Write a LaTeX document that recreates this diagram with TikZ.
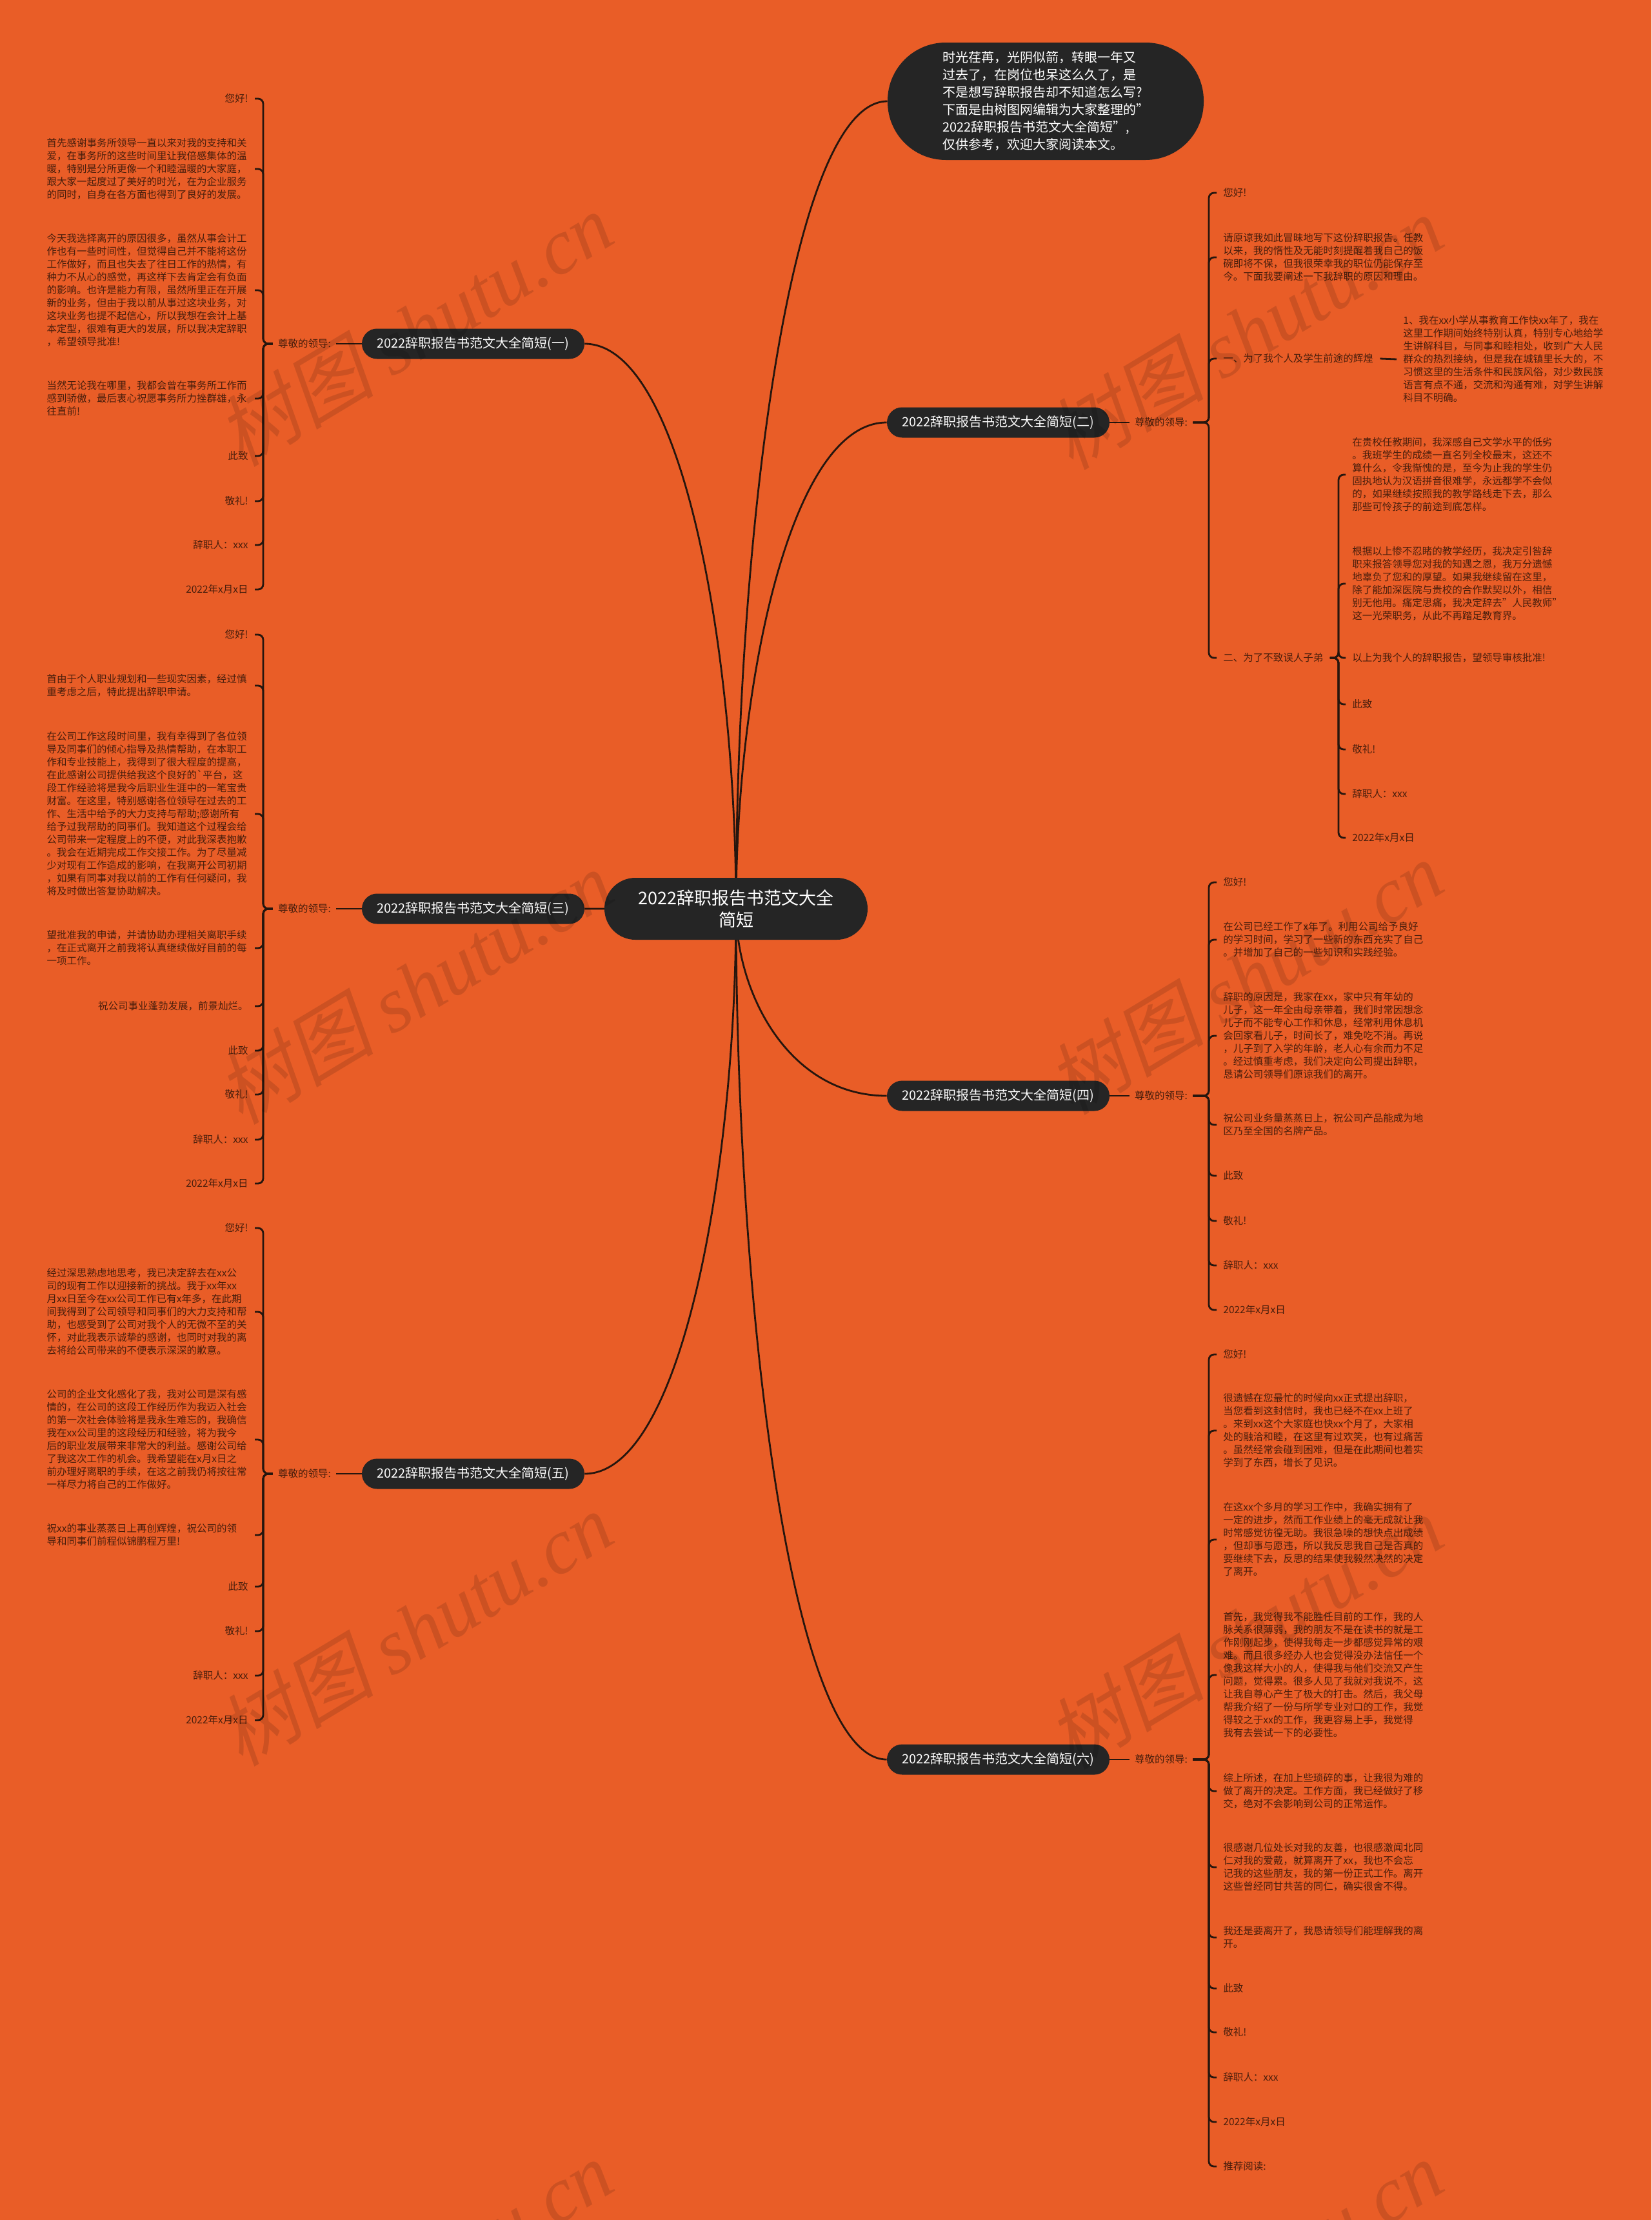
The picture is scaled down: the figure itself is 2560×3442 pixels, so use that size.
\documentclass[tikz,border=0pt]{standalone}
\usepackage{fontspec}
\setmainfont{Noto Sans CJK SC}
\newfontfamily\wmlatin{Liberation Serif}
\newfontfamily\wmcjk[FakeSlant=0.2]{Noto Sans CJK SC}
\usetikzlibrary{calc}
\definecolor{bgc}{RGB}{233,93,39}
\definecolor{nodec}{RGB}{37,37,37}
\definecolor{linec}{RGB}{38,22,14}
\definecolor{leafc}{RGB}{72,30,12}
\pgfdeclarelayer{bg}
\pgfsetlayers{bg,main}
\begin{document}
\begin{tikzpicture}[x=0.5pt,y=-0.5pt,
  leaf/.style={text=leafc, font=\fontsize{7.75pt}{10pt}\selectfont, align=left, inner xsep=5pt, inner ysep=0pt},
  lleaf/.style={leaf, anchor=east},
  lmulti/.style={leaf, anchor=east, text width=156pt},
  rleaf/.style={leaf, anchor=west},
  lab/.style={text=leafc, font=\fontsize{7.75pt}{10pt}\selectfont, inner xsep=4pt, inner ysep=0pt},
  branch/.style={fill=nodec, text=white, font=\fontsize{10pt}{12pt}\selectfont, rounded corners=11.75pt, minimum height=23.5pt, minimum width=172.5pt, inner xsep=0pt},
  conn/.style={draw=linec, line width=1.4pt, rounded corners=4pt},
  mainc/.style={draw=linec, line width=1.4pt},
  wm/.style={rotate=31, text=black, text opacity=0.12, font=\fontsize{61pt}{61pt}\selectfont, inner sep=0pt}
]
\useasboundingbox (0,0) rectangle (2560,3442);
\begin{pgfonlayer}{bg}
\fill[bgc] (0,0) rectangle (2560,3442);
\end{pgfonlayer}

% central node and top bubble
\node[fill=nodec, text=white, font=\fontsize{13.5pt}{17pt}\selectfont, align=center, rounded corners=24pt, minimum width=204pt, minimum height=48pt, inner sep=0pt] (C) at (1141,1409) {2022辞职报告书范文大全\\简短};
\node[fill=nodec, text=white, font=\fontsize{10pt}{13.5pt}\selectfont, align=left, rounded corners=45pt, minimum width=245pt, minimum height=91pt, inner sep=0pt] (bub) at (1621,157) {时光荏苒，光阴似箭，转眼一年又\\过去了，在岗位也呆这么久了，是\\不是想写辞职报告却不知道怎么写?\\下面是由树图网编辑为大家整理的"\\2022辞职报告书范文大全简短",\\仅供参考，欢迎大家阅读本文。};

% branch nodes
\node[branch] (b1) at (733.5,533) {2022辞职报告书范文大全简短(一)};
\node[branch] (b2) at (1547.5,655) {2022辞职报告书范文大全简短(二)};
\node[branch] (b3) at (733.5,1409) {2022辞职报告书范文大全简短(三)};
\node[branch] (b4) at (1547.5,1699) {2022辞职报告书范文大全简短(四)};
\node[branch] (b5) at (733.5,2285) {2022辞职报告书范文大全简短(五)};
\node[branch] (b6) at (1547.5,2728) {2022辞职报告书范文大全简短(六)};

% labels
\node[lab] (l1) at (472,533) {尊敬的领导:};
\node[lab] (l2) at (1800,655) {尊敬的领导:};
\node[lab] (l3) at (472,1409) {尊敬的领导:};
\node[lab] (l4) at (1800,1699) {尊敬的领导:};
\node[lab] (l5) at (472,2285) {尊敬的领导:};
\node[lab] (l6) at (1800,2728) {尊敬的领导:};
\coordinate (k1) at (408,533);
\coordinate (k2) at (1874,655);
\coordinate (k3) at (408,1409);
\coordinate (k4) at (1874,1699);
\coordinate (k5) at (408,2285);
\coordinate (k6) at (1874,2728);

% ---- branch 1 leaves
\node[lleaf] (a1) at (395,153) {您好!};
\node[lmulti] (a2) at (395,262) {首先感谢事务所领导一直以来对我的支持和关\\爱，在事务所的这些时间里让我倍感集体的温\\暖，特别是分所更像一个和睦温暖的大家庭，\\跟大家一起度过了美好的时光，在为企业服务\\的同时，自身在各方面也得到了良好的发展。};
\node[lmulti] (a3) at (395,450) {今天我选择离开的原因很多，虽然从事会计工\\作也有一些时间性，但觉得自己并不能将这份\\工作做好，而且也失去了往日工作的热情，有\\种力不从心的感觉，再这样下去肯定会有负面\\的影响。也许是能力有限，虽然所里正在开展\\新的业务，但由于我以前从事过这块业务，对\\这块业务也提不起信心，所以我想在会计上基\\本定型，很难有更大的发展，所以我决定辞职\\，希望领导批准!};
\node[lmulti] (a4) at (395,618) {当然无论我在哪里，我都会曾在事务所工作而\\感到骄傲，最后衷心祝愿事务所力挫群雄，永\\往直前!};
\node[lleaf] (a5) at (395,707) {此致};
\node[lleaf] (a6) at (395,777) {敬礼!};
\node[lleaf] (a7) at (395,845) {辞职人：xxx};
\node[lleaf] (a8) at (395,914) {2022年x月x日};

% ---- branch 3 leaves
\node[lleaf] (c1) at (395,984) {您好!};
\node[lmulti] (c2) at (395,1063) {首由于个人职业规划和一些现实因素，经过慎\\重考虑之后，特此提出辞职申请。};
\node[lmulti] (c3) at (395,1262) {在公司工作这段时间里，我有幸得到了各位领\\导及同事们的倾心指导及热情帮助，在本职工\\作和专业技能上，我得到了很大程度的提高，\\在此感谢公司提供给我这个良好的\textasciigrave 平台，这\\段工作经验将是我今后职业生涯中的一笔宝贵\\财富。在这里，特别感谢各位领导在过去的工\\作、生活中给予的大力支持与帮助;感谢所有\\给予过我帮助的同事们。我知道这个过程会给\\公司带来一定程度上的不便，对此我深表抱歉\\。我会在近期完成工作交接工作。为了尽量减\\少对现有工作造成的影响，在我离开公司初期\\，如果有同事对我以前的工作有任何疑问，我\\将及时做出答复协助解决。};
\node[lmulti] (c4) at (395,1470) {望批准我的申请，并请协助办理相关离职手续\\，在正式离开之前我将认真继续做好目前的每\\一项工作。};
\node[lleaf] (c5) at (395,1560) {祝公司事业蓬勃发展，前景灿烂。};
\node[lleaf] (c6) at (395,1629) {此致};
\node[lleaf] (c7) at (395,1697) {敬礼!};
\node[lleaf] (c8) at (395,1767) {辞职人：xxx};
\node[lleaf] (c9) at (395,1835) {2022年x月x日};

% ---- branch 5 leaves
\node[lleaf] (e1) at (395,1904) {您好!};
\node[lmulti] (e2) at (395,2034) {经过深思熟虑地思考，我已决定辞去在xx公\\司的现有工作以迎接新的挑战。我于xx年xx\\月xx日至今在xx公司工作已有x年多，在此期\\间我得到了公司领导和同事们的大力支持和帮\\助，也感受到了公司对我个人的无微不至的关\\怀，对此我表示诚挚的感谢，也同时对我的离\\去将给公司带来的不便表示深深的歉意。};
\node[lmulti] (e3) at (395,2232) {公司的企业文化感化了我，我对公司是深有感\\情的，在公司的这段工作经历作为我迈入社会\\的第一次社会体验将是我永生难忘的，我确信\\我在xx公司里的这段经历和经验，将为我今\\后的职业发展带来非常大的利益。感谢公司给\\了我这次工作的机会。我希望能在x月x日之\\前办理好离职的手续，在这之前我仍将按往常\\一样尽力将自己的工作做好。};
\node[lmulti] (e4) at (395,2380) {祝xx的事业蒸蒸日上再创辉煌，祝公司的领\\导和同事们前程似锦鹏程万里!};
\node[lleaf] (e5) at (395,2460) {此致};
\node[lleaf] (e6) at (395,2529) {敬礼!};
\node[lleaf] (e7) at (395,2598) {辞职人：xxx};
\node[lleaf] (e8) at (395,2667) {2022年x月x日};

% ---- branch 2 leaves
\node[rleaf] (d1) at (1886,299) {您好!};
\node[rleaf] (d2) at (1886,399) {请原谅我如此冒昧地写下这份辞职报告。任教\\以来，我的惰性及无能时刻提醒着我自己的饭\\碗即将不保，但我很荣幸我的职位仍能保存至\\今。下面我要阐述一下我辞职的原因和理由。};
\node[rleaf] (d3) at (1886,556) {一、为了我个人及学生前途的辉煌};
\node[rleaf] (d3a) at (2165,557) {1、我在xx小学从事教育工作快xx年了，我在\\这里工作期间始终特别认真，特别专心地给学\\生讲解科目，与同事和睦相处，收到广大人民\\群众的热烈接纳，但是我在城镇里长大的，不\\习惯这里的生活条件和民族风俗，对少数民族\\语言有点不通，交流和沟通有难，对学生讲解\\科目不明确。};
\node[rleaf] (d4) at (1886,1020) {二、为了不致误人子弟};
\coordinate (k2b) at (2075,1020);
\node[rleaf] (f1) at (2086,736) {在贵校任教期间，我深感自己文学水平的低劣\\。我班学生的成绩一直名列全校最末，这还不\\算什么，令我惭愧的是，至今为止我的学生仍\\固执地认为汉语拼音很难学，永远都学不会似\\的，如果继续按照我的教学路线走下去，那么\\那些可怜孩子的前途到底怎样。};
\node[rleaf] (f2) at (2086,905) {根据以上惨不忍睹的教学经历，我决定引咎辞\\职来报答领导您对我的知遇之恩，我万分遗憾\\地辜负了您和的厚望。如果我继续留在这里，\\除了能加深医院与贵校的合作默契以外，相信\\别无他用。痛定思痛，我决定辞去"人民教师"\\这一光荣职务，从此不再踏足教育界。};
\node[rleaf] (f3) at (2086,1020) {以上为我个人的辞职报告，望领导审核批准!};
\node[rleaf] (f4) at (2086,1092) {此致};
\node[rleaf] (f5) at (2086,1162) {敬礼!};
\node[rleaf] (f6) at (2086,1231) {辞职人：xxx};
\node[rleaf] (f7) at (2086,1299) {2022年x月x日};

% ---- branch 4 leaves
\node[rleaf] (g1) at (1886,1368) {您好!};
\node[rleaf] (g2) at (1886,1457) {在公司已经工作了x年了。利用公司给予良好\\的学习时间，学习了一些新的东西充实了自己\\。并增加了自己的一些知识和实践经验。};
\node[rleaf] (g3) at (1886,1606) {辞职的原因是，我家在xx，家中只有年幼的\\儿子，这一年全由母亲带着，我们时常因想念\\儿子而不能专心工作和休息，经常利用休息机\\会回家看儿子，时间长了，难免吃不消。再说\\，儿子到了入学的年龄，老人心有余而力不足\\。经过慎重考虑，我们决定向公司提出辞职，\\恳请公司领导们原谅我们的离开。};
\node[rleaf] (g4) at (1886,1744) {祝公司业务量蒸蒸日上，祝公司产品能成为地\\区乃至全国的名牌产品。};
\node[rleaf] (g5) at (1886,1823) {此致};
\node[rleaf] (g6) at (1886,1893) {敬礼!};
\node[rleaf] (g7) at (1886,1962) {辞职人：xxx};
\node[rleaf] (g8) at (1886,2031) {2022年x月x日};

% ---- branch 6 leaves
\node[rleaf] (h1) at (1886,2100) {您好!};
\node[rleaf] (h2) at (1886,2218) {很遗憾在您最忙的时候向xx正式提出辞职，\\当您看到这封信时，我也已经不在xx上班了\\。来到xx这个大家庭也快xx个月了，大家相\\处的融洽和睦，在这里有过欢笑，也有过痛苦\\。虽然经常会碰到困难，但是在此期间也着实\\学到了东西，增长了见识。};
\node[rleaf] (h3) at (1886,2387) {在这xx个多月的学习工作中，我确实拥有了\\一定的进步，然而工作业绩上的毫无成就让我\\时常感觉彷徨无助。我很急噪的想快点出成绩\\，但却事与愿违，所以我反思我自己是否真的\\要继续下去，反思的结果使我毅然决然的决定\\了离开。};
\node[rleaf] (h4) at (1886,2597) {首先，我觉得我不能胜任目前的工作，我的人\\脉关系很薄弱，我的朋友不是在读书的就是工\\作刚刚起步，使得我每走一步都感觉异常的艰\\难。而且很多经办人也会觉得没办法信任一个\\像我这样大小的人，使得我与他们交流又产生\\问题，觉得累。很多人见了我就对我说不，这\\让我自尊心产生了极大的打击。然后，我父母\\帮我介绍了一份与所学专业对口的工作，我觉\\得较之于xx的工作，我更容易上手，我觉得\\我有去尝试一下的必要性。};
\node[rleaf] (h5) at (1886,2777) {综上所述，在加上些琐碎的事，让我很为难的\\做了离开的决定。工作方面，我已经做好了移\\交，绝对不会影响到公司的正常运作。};
\node[rleaf] (h6) at (1886,2895) {很感谢几位处长对我的友善，也很感激闻北同\\仁对我的爱戴，就算离开了xx，我也不会忘\\记我的这些朋友，我的第一份正式工作。离开\\这些曾经同甘共苦的同仁，确实很舍不得。};
\node[rleaf] (h7) at (1886,3004) {我还是要离开了，我恳请领导们能理解我的离\\开。};
\node[rleaf] (h8) at (1886,3083) {此致};
\node[rleaf] (h9) at (1886,3151) {敬礼!};
\node[rleaf] (h10) at (1886,3221) {辞职人：xxx};
\node[rleaf] (h11) at (1886,3290) {2022年x月x日};
\node[rleaf] (h12) at (1886,3359) {推荐阅读:};

% ---- connectors
\begin{pgfonlayer}{bg}
\foreach \t/\a in {bub/west, b2/west, b4/west, b6/west, b1/east, b5/east, b3/east}
  \draw[mainc] (C.center) .. controls ($(C.center)!0.45!(C.center|-\t.\a)$) and ($(\t.\a)!0.65!(C.center|-\t.\a)$) .. (\t.\a);
\draw[conn] (b1.west) -- (l1.east);
\draw[conn] (b3.west) -- (l3.east);
\draw[conn] (b5.west) -- (l5.east);
\draw[conn] (b2.east) -- (l2.west);
\draw[conn] (b4.east) -- (l4.west);
\draw[conn] (b6.east) -- (l6.west);
\foreach \n in {a1,a2,a3,a4,a5,a6,a7,a8}
  \draw[conn] (l1.west) -- (k1) |- (\n.east);
\foreach \n in {c1,c2,c3,c4,c5,c6,c7,c8,c9}
  \draw[conn] (l3.west) -- (k3) |- (\n.east);
\foreach \n in {e1,e2,e3,e4,e5,e6,e7,e8}
  \draw[conn] (l5.west) -- (k5) |- (\n.east);
\foreach \n in {d1,d2,d3,d4}
  \draw[conn] (l2.east) -- (k2) |- (\n.west);
\draw[conn] (d3.east) -- (d3a.west);
\foreach \n in {f1,f2,f3,f4,f5,f6,f7}
  \draw[conn] (d4.east) -- (k2b) |- (\n.west);
\foreach \n in {g1,g2,g3,g4,g5,g6,g7,g8}
  \draw[conn] (l4.east) -- (k4) |- (\n.west);
\foreach \n in {h1,h2,h3,h4,h5,h6,h7,h8,h9,h10,h11,h12}
  \draw[conn] (l6.east) -- (k6) |- (\n.west);
\end{pgfonlayer}

% ---- watermarks
\foreach \wx/\wy/\wn in {643/510/w1, 643/1530/w2, 643/2525/w3, 643/3530/w4, 1930/515/w5, 1930/1515/w6, 1930/2530/w7, 1930/3530/w8}
  \node[wm] (\wn) at (\wx,\wy) {{\wmcjk 树图} {\wmlatin\itshape shutu.cn}};
\end{tikzpicture}
\end{document}
